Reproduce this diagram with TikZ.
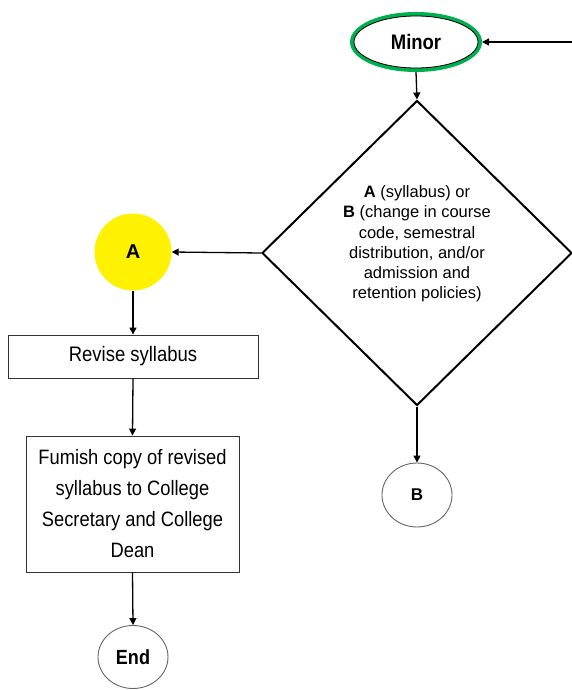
\documentclass[tikz,border=0pt]{standalone}
\usepackage{fontspec}
\setmainfont{Liberation Sans}
\newfontfamily\narrowfont{Liberation Sans}[FakeStretch=0.88]
\usetikzlibrary{shapes.geometric,arrows.meta}
\definecolor{offgreen}{HTML}{00B050}
\begin{document}
\begin{tikzpicture}[x=1pt,y=-1pt,
  conn/.style={draw=black,line width=1.3pt,-{Triangle[length=7pt,width=7pt]}},
  procbox/.style={draw=black!80,line width=0.9pt,rectangle,inner sep=0pt,align=center},
  term/.style={draw=black!60,line width=0.9pt,ellipse,inner sep=0pt,font=\narrowfont\fontsize{20.5}{20}\selectfont\bfseries},
  decision/.style={draw=black,line width=2pt,diamond,inner sep=0pt,minimum width=310pt,minimum height=305pt}]
\useasboundingbox (0,0) rectangle (572,690);
\clip (0,0) rectangle (572,690);
% nodes
\node[ellipse,draw=offgreen,line width=4pt,minimum width=128pt,minimum height=56pt,inner sep=0pt,
      font=\narrowfont\fontsize{21}{20}\selectfont\bfseries] (minor) at (416,42) {Minor};
\draw[black,line width=0.8pt] (minor.center) ellipse (62 and 26);
\coordinate (inR) at (575,42);
\node[decision] (dec) at (417,253) {};
\node[align=center,font=\fontsize{16.5}{20.2}\selectfont] (dtext) at (417,244)
  {\textbf{A} (syllabus) or\\\textbf{B} (change in course\\code, semestral\\distribution, and/or\\admission and\\retention policies)};
\node[circle,fill=yellow,minimum size=77pt,inner sep=0pt,font=\fontsize{20}{20}\selectfont\bfseries] (A) at (133,252) {A};
\node[procbox,minimum width=250pt,minimum height=43pt,font=\narrowfont\fontsize{21}{20}\selectfont] (rev) at (133,356.5) {Revise syllabus};
\node[procbox,minimum width=213pt,minimum height=136pt,font=\narrowfont\fontsize{20.8}{31}\selectfont] (furn) at (132.5,504)
  {Fumish copy of revised\\syllabus to College\\Secretary and College\\Dean};
\node[term,minimum width=70pt,minimum height=63pt] (end) at (133,657) {End};
\node[term,minimum width=70pt,minimum height=64pt,font=\fontsize{17}{20}\selectfont\bfseries] (B) at (417,495) {B};
% connectors
\draw[conn] (inR) -- (minor.east);
\draw[conn] (minor.south) -- (dec.north);
\draw[conn] (dec.west) -- (A.east);
\draw[conn] (A.south) -- (rev.north);
\draw[conn] (rev.south) -- (furn.north);
\draw[conn] (furn.south) -- (end.north);
\draw[conn] (dec.south) -- (B.north);
\end{tikzpicture}
\end{document}
